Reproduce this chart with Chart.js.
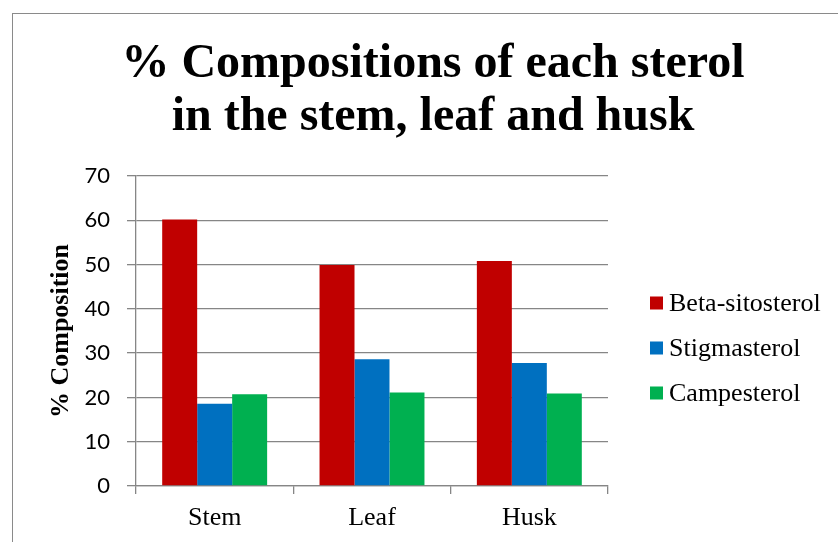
<!DOCTYPE html>
<html>
<head>
<meta charset="utf-8">
<title>% Compositions of each sterol</title>
<script src="https://cdn.jsdelivr.net/npm/chart.js@4.4.1/dist/chart.umd.min.js"></script>
<style>
  html, body { margin: 0; padding: 0; background: #fff; overflow: hidden; }
  #frame {
    position: absolute; left: 12px; top: 13px; width: 900px; height: 600px;
    border-left: 1px solid #8a8a8a; border-top: 1px solid #8a8a8a;
  }
  #wrap { position: absolute; left: 0; top: 0; width: 838px; height: 542px; }
</style>
</head>
<body>
<div id="frame"></div>
<div id="wrap"><canvas id="chart" width="838" height="542"></canvas></div>

<script>
/* ---------- data ---------- */
const categories = ["Stem", "Leaf", "Husk"];
const seriesNames = ["Beta-sitosterol", "Stigmasterol", "Campesterol"];
const betaSitosterol = [60.2, 49.9, 50.8];
const stigmasterol   = [18.6, 28.6, 27.8];
const campesterol    = [20.7, 21.1, 20.9];
const yTicks = [0, 10, 20, 30, 40, 50, 60, 70];
const titleLines = ["% Compositions of each sterol", "in the stem, leaf and husk"];
const yTitle = "% Composition";

const colors = ["#C00000", "#0070C0", "#00B050"];
const gridColor = "#868686";
const serif = '"Liberation Serif", "Times New Roman", serif';

/* ---------- title + legend drawn on the canvas ---------- */
const titlePlugin = {
  id: "bigTitle",
  afterDraw(chart) {
    const ctx = chart.ctx;
    ctx.save();
    ctx.fillStyle = "#000";
    ctx.font = "bold 48px " + serif;
    ctx.textAlign = "center";
    ctx.textBaseline = "alphabetic";
    ctx.fillText(titleLines[0], 433, 77);
    ctx.fillText(titleLines[1], 433, 130);
    ctx.restore();
  }
};

const sideLegend = {
  id: "sideLegend",
  afterDraw(chart) {
    const ctx = chart.ctx;
    const area = chart.chartArea;
    ctx.save();
    ctx.font = "26px " + serif;
    ctx.textBaseline = "middle";
    ctx.textAlign = "left";
    chart.data.datasets.forEach((ds, i) => {
      const cy = 348 + (i - 1) * 45;
      const bx = area.right + 42;
      ctx.fillStyle = ds.backgroundColor;
      ctx.fillRect(bx, cy - 6.5, 13, 13);
      ctx.fillStyle = "#000";
      ctx.fillText(ds.label, bx + 19, cy + 1);
    });
    ctx.restore();
  }
};

/* ---------- chart ---------- */
const datasets = [betaSitosterol, stigmasterol, campesterol].map((vals, i) => ({
  label: seriesNames[i],
  data: vals,
  backgroundColor: colors[i],
  borderWidth: 0,
  categoryPercentage: 0.667,
  barPercentage: 1.0
}));

new Chart(document.getElementById("chart"), {
  type: "bar",
  data: { labels: categories, datasets },
  plugins: [titlePlugin, sideLegend],
  options: {
    responsive: false,
    animation: false,
    layout: { padding: { top: 176, right: 230, bottom: 0, left: 0 } },
    plugins: {
      legend: { display: false },
      title: { display: false },
      tooltip: { enabled: false }
    },
    scales: {
      x: {
        grid: {
          offset: true,
          drawOnChartArea: false,
          drawTicks: true,
          tickLength: 8,
          color: gridColor,
          lineWidth: 1.3
        },
        border: { display: true, color: gridColor, width: 1.3 },
        ticks: {
          color: "#000",
          padding: 9,
          font: { family: serif, size: 26 }
        },
        afterFit: s => { s.height = 56; }
      },
      y: {
        min: 0,
        max: 70,
        afterBuildTicks: s => { s.ticks = yTicks.map(v => ({ value: v })); },
        grid: {
          color: gridColor,
          lineWidth: 1.3,
          drawTicks: true,
          tickLength: 9
        },
        border: { display: true, color: gridColor, width: 1.3 },
        ticks: {
          color: "#000",
          padding: 17,
          font: { family: "Lato, 'Open Sans', sans-serif", size: 22 }
        },
        title: {
          display: true,
          text: yTitle,
          color: "#000",
          padding: { top: 46, bottom: 0 },
          font: { family: serif, size: 26, weight: "bold" }
        },
        afterFit: s => { s.width = 136; }
      }
    }
  }
});
</script>
</body>
</html>
